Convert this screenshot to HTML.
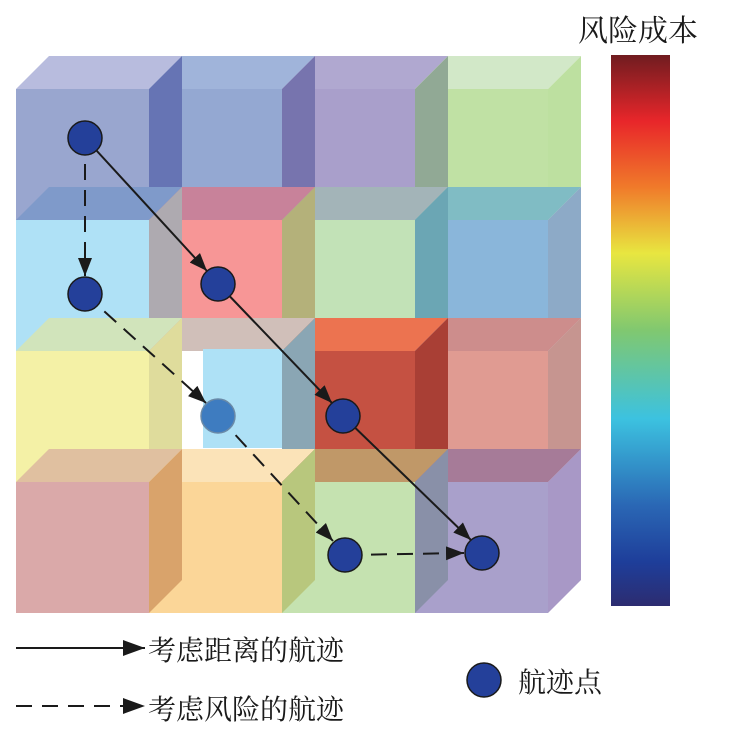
<!DOCTYPE html>
<html><head><meta charset="utf-8"><style>
body{margin:0;background:#fff;width:748px;height:739px;overflow:hidden}
text{font-family:"Liberation Serif","Noto Serif CJK SC",serif;fill:#1a1a1a}
</style></head><body>
<svg width="748" height="739" viewBox="0 0 748 739" xmlns="http://www.w3.org/2000/svg">
<defs>
<linearGradient id="cb" x1="0" y1="0" x2="0" y2="1">
<stop offset="0" stop-color="#701c20"/>
<stop offset="0.12" stop-color="#e8262a"/>
<stop offset="0.24" stop-color="#f07a2a"/>
<stop offset="0.36" stop-color="#e8e640"/>
<stop offset="0.5" stop-color="#80c870"/>
<stop offset="0.66" stop-color="#3cc2e0"/>
<stop offset="0.82" stop-color="#2a66b4"/>
<stop offset="0.92" stop-color="#1e3e9a"/>
<stop offset="1" stop-color="#2c2c70"/>
</linearGradient>
<marker id="ah" viewBox="0 0 10 10" refX="10" refY="5" markerWidth="22" markerHeight="16" markerUnits="userSpaceOnUse" orient="auto" preserveAspectRatio="none">
<path d="M0,0 L10,5 L0,10 z" fill="#1a1a1a"/></marker>
<marker id="ah2" viewBox="0 0 10 10" refX="10" refY="5" markerWidth="18" markerHeight="14" markerUnits="userSpaceOnUse" orient="auto" preserveAspectRatio="none">
<path d="M0,0 L10,5 L0,10 z" fill="#1a1a1a"/></marker>
</defs>
<g id="cubes"></g>
<rect x="611" y="55" width="59" height="551" fill="url(#cb)"/>
<text x="578" y="41" font-size="30">风险成本</text>
<g stroke="#1a1a1a" stroke-width="2" fill="none">
<line x1="85" y1="138" x2="207" y2="271" marker-end="url(#ah2)"/>
<line x1="218" y1="284" x2="332" y2="403" marker-end="url(#ah2)"/>
<line x1="343" y1="416" x2="471" y2="540" marker-end="url(#ah2)"/>
<g stroke-dasharray="16,10">
<line x1="85" y1="138" x2="85" y2="276" marker-end="url(#ah2)"/>
<line x1="85" y1="294" x2="206" y2="403" marker-end="url(#ah2)"/>
<line x1="218" y1="416" x2="333" y2="541" marker-end="url(#ah2)"/>
<line x1="345" y1="555" x2="464" y2="553" marker-end="url(#ah2)"/>
</g>
<line x1="16" y1="648" x2="145" y2="648" marker-end="url(#ah)"/>
<line x1="16" y1="706" x2="145" y2="706" stroke-dasharray="16,10" marker-end="url(#ah)"/>
</g>
<g fill="#24409a" stroke="#1a1a1a" stroke-width="1.5">
<circle cx="85" cy="138" r="17"/><circle cx="85" cy="294" r="17"/>
<circle cx="218" cy="284" r="17"/><circle cx="218" cy="416" r="17" fill="#3e7cc0" stroke="#6a8aa8"/>
<circle cx="343" cy="416" r="17"/><circle cx="345" cy="555" r="17"/>
<circle cx="482" cy="553" r="17"/><circle cx="484" cy="680" r="17"/>
</g>
<text x="148" y="660" font-size="28">考虑距离的航迹</text>
<text x="148" y="719" font-size="28">考虑风险的航迹</text>
<text x="518" y="692" font-size="28">航迹点</text>
</svg>
<script>
var g=document.getElementById('cubes');
var F=[["#99a6cf","#94a8d2","#a99fcb","#c0e1a4"],["#afe1f6","#f79696","#c2e2b7","#8ab6da"],["#f4f1a6","#ffffff","#c55142","#e09b92"],["#daa9a9","#fbd698","#c5e2b0","#a9a0cb"]];
var T=[["#b8bcde","#a0b4da","#b0a8d0","#d2e8c8"],["#7f9aca","#c8829a","#a3b4b8","#80bcc4"],["#d1e4bb","#d0bfb9","#ec7350","#cd8d8c"],["#e0c0a0","#fbe3b8","#c09868","#a67b98"]];
var S=[["#6674b4","#7774ae","#91a995","#bde0a0"],["#aeaab0","#b4b17a","#6ba6b4","#8daac7"],["#dfdc9c","#8aa6b4","#a93f35","#c69590"],["#d9a36b","#b8c77d","#8990a8","#a898c6"]];
var h='';
function P(p,c){return '<polygon points="'+p+'" fill="'+c+'"/>';}
for(var r=0;r<4;r++){var y=89+r*131;
 for(var c=0;c<4;c++){var x=16+c*133;h+=P(x+','+y+' '+(x+133)+','+y+' '+(x+166)+','+(y-33)+' '+(x+33)+','+(y-33),T[r][c]);}
 for(var c=0;c<4;c++){var x=16+c*133;h+='<rect x="'+x+'" y="'+y+'" width="133" height="131" fill="'+F[r][c]+'"/>';
  if(r==2&&c==1)h+='<rect x="203" y="349" width="102" height="99" fill="#aee1f6"/>';}
 for(var c=0;c<4;c++){var x=16+c*133;h+=P((x+133)+','+y+' '+(x+166)+','+(y-33)+' '+(x+166)+','+(y+98)+' '+(x+133)+','+(y+131),S[r][c]);}
}
g.innerHTML=h;
</script>
</body></html>
